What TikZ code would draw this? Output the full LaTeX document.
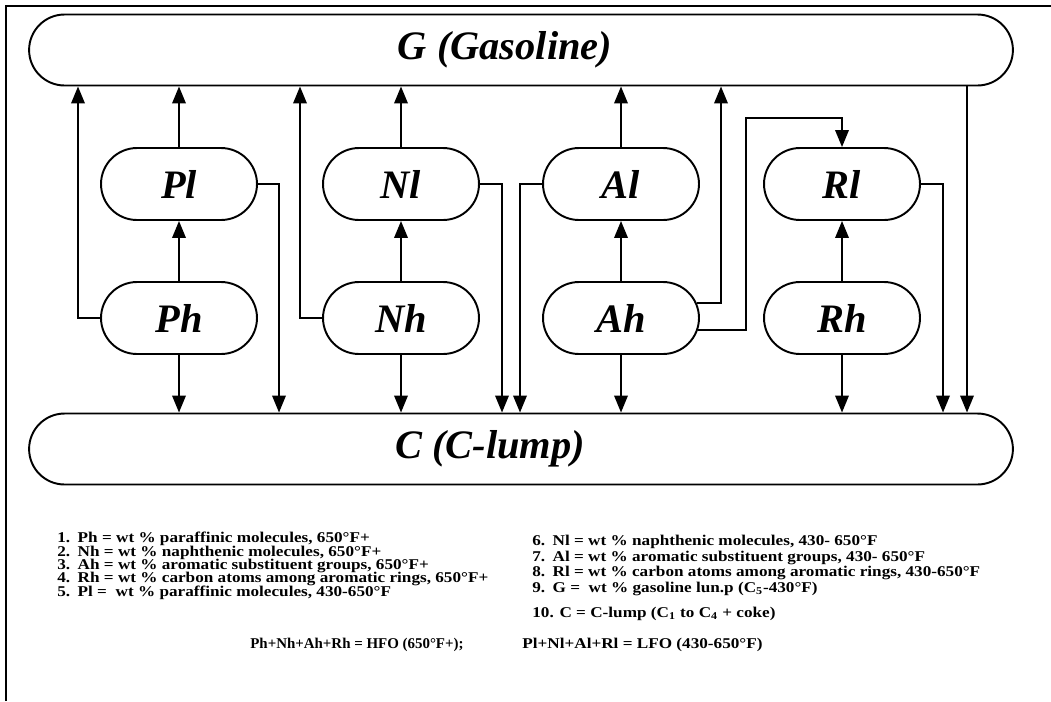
\documentclass[tikz,border=0pt]{standalone}
\usepackage{fontspec}
\setmainfont{Liberation Serif}
\newfontfamily\notefont[FakeStretch=1.15]{Liberation Serif}
\usepackage{tikz}
\usetikzlibrary{shapes.misc, arrows.meta}

\begin{document}
\begin{tikzpicture}[
    x=0.02cm, y=-0.02cm,
    bigbox/.style = {
        draw, rounded rectangle, line width=1.1pt,
        minimum width=19.68cm, minimum height=1.42cm,
        inner sep=0pt, font=\bfseries\itshape\fontsize{23}{26}\selectfont
    },
    lumpbox/.style = {
        draw, rounded rectangle, line width=1.1pt,
        minimum width=3.12cm, minimum height=1.44cm,
        inner sep=0pt, font=\bfseries\itshape\fontsize{23}{26}\selectfont
    },
    arr/.style = {-{Triangle[length=0.34cm, width=0.27cm]}, line width=1.1pt},
    note/.style = {
        anchor=north west, align=left, inner sep=0pt,
        font={\notefont\bfseries\fontsize{8.5}{7.6}\selectfont\lineskiplimit-10pt\relax}
    }
]
\useasboundingbox (0,0) rectangle (1051,701);

%% ---- FRAME ----
\draw[line width=1.4pt] (6,701) -- (6,6) -- (1051,6);

%% ---- LUMPS ----
\node[bigbox] (gas) at (521, 50)  {G (Gasoline)\rule{0.64cm}{0pt}};
\node[bigbox] (cl)  at (521, 449) {C (C-lump)\rule{1.24cm}{0pt}};

\node[lumpbox] (pl) at (179, 184) {Pl};
\node[lumpbox] (ph) at (179, 318) {Ph};
\node[lumpbox] (nl) at (401, 184) {Nl};
\node[lumpbox] (nh) at (401, 318) {Nh};
\node[lumpbox] (al) at (621, 184) {Al};
\node[lumpbox] (ah) at (621, 318) {Ah};
\node[lumpbox] (rl) at (842, 184) {Rl};
\node[lumpbox] (rh) at (842, 318) {Rh};

%% ---- ARROWS ----
\draw[arr] (ph.west) -| (78,0 |- gas.south);
\draw[arr] (ph) -- (pl);
\draw[arr] (pl) -- (pl |- gas.south);
\draw[arr] (pl.east) -| (279,0 |- cl.north);
\draw[arr] (ph) -- (ph |- cl.north);

\draw[arr] (nh.west) -| (300,0 |- gas.south);
\draw[arr] (nh) -- (nl);
\draw[arr] (nl) -- (nl |- gas.south);
\draw[arr] (nl.east) -| (502,0 |- cl.north);
\draw[arr] (nh) -- (nh |- cl.north);

\draw[arr] (al.west) -| (520,0 |- cl.north);
\draw[arr] (ah) -- (al);
\draw[arr] (al) -- (al |- gas.south);
\draw[arr] (ah.11) -| (721,0 |- gas.south);
\draw[arr] (ah.-9) -| (746,118) -| (rl.north);
\draw[arr] (ah) -- (ah |- cl.north);

\draw[arr] (rh) -- (rl);
\draw[arr] (rl.east) -| (943,0 |- cl.north);
\draw[arr] (rh) -- (rh |- cl.north);
\draw[arr] (967,0 |- gas.south) -- (967,0 |- cl.north);

%% ---- LEGEND ----
\node[note] (defh) at (57, 532) {%
    1.\enspace Ph = wt \% paraffinic molecules, 650°F+\\
    2.\enspace Nh = wt \% naphthenic molecules, 650°F+\\
    3.\enspace Ah = wt \% aromatic substituent groups, 650°F+\\
    4.\enspace Rh = wt \% carbon atoms among aromatic rings, 650°F+\\
    5.\enspace Pl = \ wt \% paraffinic molecules, 430-650°F};
\node[note, font={\notefont\bfseries\fontsize{8.5}{8.8}\selectfont\lineskiplimit-10pt\relax}]
    (defl) at (532, 535) {%
    6.\enspace Nl = wt \% naphthenic molecules, 430- 650°F\\
    7.\enspace Al = wt \% aromatic substituent groups, 430- 650°F\\
    8.\enspace Rl = wt \% carbon atoms among aromatic rings, 430-650°F\\
    9.\enspace G = \ wt \% gasoline lun.p (C\textsubscript{5}-430°F)};
\node[note] (defc) at (532, 607) {10. C = C-lump (C\textsubscript{1} to C\textsubscript{4} + coke)};

\node[note, font=\bfseries\fontsize{8.5}{8.8}\selectfont] (hfo) at (250, 638) {Ph+Nh+Ah+Rh = HFO (650°F+);};
\node[note] (lfo) at (522, 638) {Pl+Nl+Al+Rl = LFO (430-650°F)};

\end{tikzpicture}
\end{document}
